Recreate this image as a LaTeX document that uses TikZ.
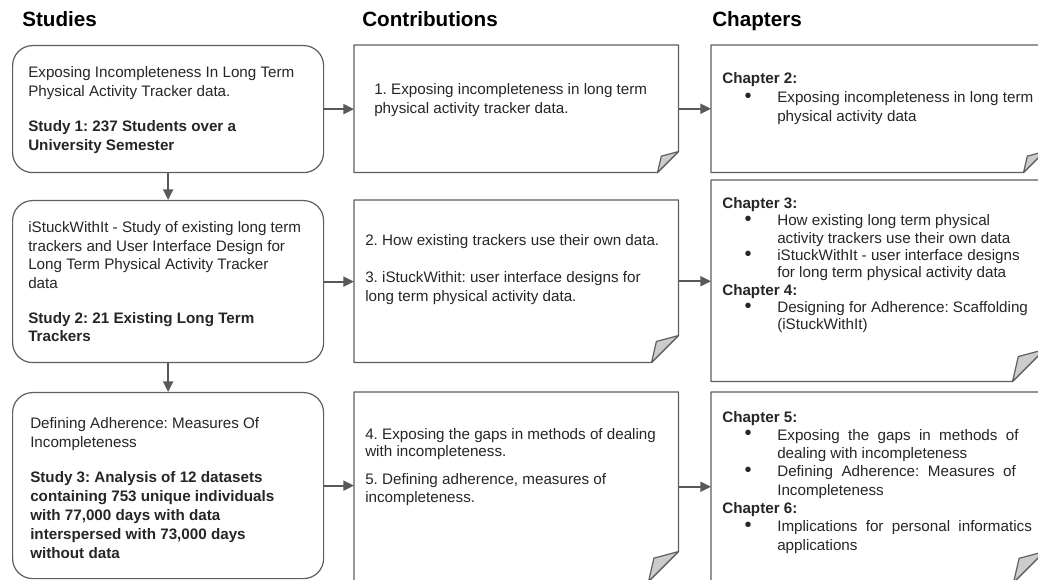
\documentclass[tikz,border=0pt]{standalone}
\usepackage{fontspec}
\setmainfont{Liberation Sans}
\usetikzlibrary{arrows.meta}
\frenchspacing

\definecolor{linegray}{HTML}{595959}
\definecolor{boxgray}{HTML}{5F5F5F}
\definecolor{flapgray}{HTML}{CCCCCC}
\definecolor{txtgray}{HTML}{262626}

\newcommand{\bul}{\hspace*{16.8pt}\makebox[24.45pt][l]{\smash{\raisebox{0.4pt}{\fontsize{15}{13}\selectfont\textbullet}}}}
\newcommand{\cnt}{\hspace*{41.25pt}}

\tikzset{
  studybox/.style={draw=boxgray, line width=0.9pt, rounded corners=15pt, anchor=north west,
    inner sep=0pt, minimum width=233.25pt},
  notebox/.style={anchor=north west, inner sep=0pt},
  boxline/.style={draw=boxgray, line width=0.9pt, line join=round},
  % base of a text block = baseline of its last line
  txt/.style={anchor=base west, inner sep=0pt, align=left, text=txtgray,
    font=\fontsize{11.4}{14.25}\selectfont},
  head/.style={anchor=base west, inner sep=0pt, font=\fontsize{15.5}{18}\selectfont\bfseries},
  link/.style={->, draw=linegray, line width=1.4pt}
}

\begin{document}
\begin{tikzpicture}[x=0.75pt, y=-0.75pt, >={Triangle[length=8pt,width=7.5pt]}]
\useasboundingbox (0,0) rectangle (1038,580);
\fill[white] (0,0) rectangle (1038,580);
\clip (0,0) rectangle (1038,580);

% column titles
\node[head] (tstud) at (22,27) {Studies};
\node[head] (tcont) at (362,27) {Contributions};
\node[head] (tchap) at (712,27) {Chapters};

% studies
\node[studybox, minimum height=95.25pt] (s1) at (12,45) {};
\node[studybox, minimum height=121.5pt] (s2) at (12,200) {};
\node[studybox, minimum height=139.5pt] (s3) at (12,392) {};

\node[txt] (s1t) at ([shift={(16,106)}]s1.north west)
  {Exposing Incompleteness In Long Term\\
   Physical Activity Tracker data.\\[12pt]
   \textbf{Study 1: 237 Students over a}\\
   \textbf{University Semester}};
\node[txt, font=\fontsize{11.4}{13.9}\selectfont] (s2t) at ([shift={(16,142)}]s2.north west)
  {iStuckWithIt - Study of existing long term\\
   trackers and User Interface Design for\\
   Long Term Physical Activity Tracker\\
   data\\[12.4pt]
   \textbf{Study 2: 21 Existing Long Term}\\
   \textbf{Trackers}};
\node[txt] (s3t) at ([shift={(18,166)}]s3.north west)
  {Defining Adherence: Measures Of\\
   Incompleteness\\[12pt]
   \textbf{Study 3: Analysis of 12 datasets}\\
   \textbf{containing 753 unique individuals}\\
   \textbf{with 77,000 days with data}\\
   \textbf{interspersed with 73,000 days}\\
   \textbf{without data}};

% contributions
\node[notebox, minimum width=243pt, minimum height=95.25pt] (c1) at (354,45) {};
\node[notebox, minimum width=243pt, minimum height=121.5pt] (c2) at (354,200) {};
\node[notebox, minimum width=243pt, minimum height=141.75pt] (c3) at (354,392) {};

\node[txt] (c1t) at ([shift={(20,69)}]c1.north west)
  {1. Exposing incompleteness in long term\\
   physical activity tracker data.};
\node[txt] (c2t) at ([shift={(11,102)}]c2.north west)
  {2. How existing trackers use their own data.\\[13.5pt]
   3. iStuckWithit: user interface designs for\\
   long term physical activity data.};
\node[txt, font=\fontsize{11.4}{13}\selectfont] (c3t) at ([shift={(11,110)}]c3.north west)
  {4. Exposing the gaps in methods of dealing\\
   with incompleteness.\\[8pt]
   5. Defining adherence, measures of\\
   incompleteness.};

% chapters
\node[notebox, minimum width=249.75pt, minimum height=95.25pt] (h1) at (711,45) {};
\node[notebox, minimum width=249.75pt, minimum height=150.75pt] (h2) at (711,180) {};
\node[notebox, minimum width=249.75pt, minimum height=142.5pt] (h3) at (711,392) {};

\node[txt] (h1t) at ([shift={(11,77)}]h1.north west)
  {\textbf{Chapter 2:}\\
   \bul Exposing incompleteness in long term\\
   \cnt physical activity data};
\node[txt, font=\fontsize{11.4}{13}\selectfont] (h2t) at ([shift={(11,150)}]h2.north west)
  {\textbf{Chapter 3:}\\
   \bul How existing long term physical\\
   \cnt activity trackers use their own data\\
   \bul iStuckWithIt - user interface designs\\
   \cnt for long term physical activity data\\
   \textbf{Chapter 4:}\\
   \bul Designing for Adherence: Scaffolding\\
   \cnt (iStuckWithIt)};
\node[txt, font=\fontsize{11.4}{13.7}\selectfont] (h3t) at ([shift={(11,158)}]h3.north west)
  {\textbf{Chapter 5:}\\
   \bul\makebox[181pt][s]{Exposing the gaps in methods of}\\
   \cnt dealing with incompleteness\\
   \bul\makebox[179pt][s]{Defining Adherence: Measures of}\\
   \cnt Incompleteness\\
   \textbf{Chapter 6:}\\
   \bul\makebox[191pt][s]{Implications for personal informatics}\\
   \cnt applications};

% folded paper outlines
\foreach \n/\f in {c1/21,c2/27,c3/30,h1/21,h2/32,h3/31}{
  \draw[boxline] (\n.north west) -- (\n.north east) -- ([shift={(0,-\f)}]\n.south east)
    -- ([shift={(-\f,0)}]\n.south east) -- (\n.south west) -- cycle;
  \draw[boxline, fill=flapgray] ([shift={(0,-\f)}]\n.south east)
    -- ([shift={(-0.82*\f,-0.78*\f)}]\n.south east) -- ([shift={(-\f,0)}]\n.south east) -- cycle;
}

% connectors
\draw[link] (s1.south) -- (s2.north);
\draw[link] (s2.south) -- (s3.north);
\foreach \a/\b in {s1/c1,s2/c2,s3/c3}
  \draw[link] (\a.east) -- (\a.east -| \b.west);
\foreach \a/\b in {c1/h1,c2/h2,c3/h3}
  \draw[link] (\a.east) -- (\a.east -| \b.west);
\end{tikzpicture}
\end{document}
